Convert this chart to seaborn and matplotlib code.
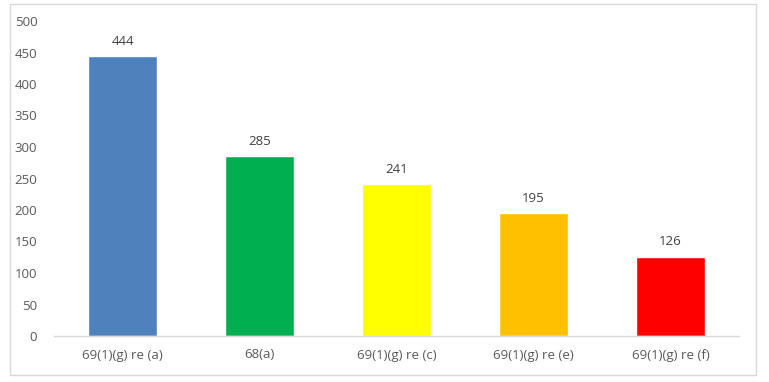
import matplotlib
matplotlib.use("Agg")
import matplotlib.pyplot as plt
import seaborn as sns
import pandas as pd
from matplotlib.patches import Rectangle

categories = ["69(1)(g) re (a)", "68(a)", "69(1)(g) re (c)", "69(1)(g) re (e)", "69(1)(g) re (f)"]
values = [444, 285, 241, 195, 126]
colors = ["#4F81BD", "#00B050", "#FFFF00", "#FFC000", "#FF0000"]
yticks = [0, 50, 100, 150, 200, 250, 300, 350, 400, 450, 500]

sns.set_style("white")
plt.rcParams["font.family"] = ["Open Sans", "DejaVu Sans"]

df = pd.DataFrame({"cat": categories, "val": values})

fig = plt.figure(figsize=(7.69, 3.82), dpi=100)
ax = fig.add_axes([54/769, 1-336/382, (739-54)/769, (336-21)/382])
sns.barplot(data=df, x="cat", y="val", hue="cat", palette=colors, legend=False,
            width=0.5, ax=ax, saturation=1)
ax.set_ylim(0, 500)
ax.set_yticks(yticks)
ax.set_xlim(-0.5, len(categories) - 0.5)
ax.set_xlabel("")
ax.set_ylabel("")
for s in ["top", "right", "left"]:
    ax.spines[s].set_visible(False)
ax.spines["bottom"].set_color("#D9D9D9")
ax.spines["bottom"].set_linewidth(1)
ax.tick_params(axis="both", length=0, labelsize=9.5, colors="#595959", pad=9)
ax.tick_params(axis="y", pad=12)
for c in ax.containers:
    ax.bar_label(c, fmt="%d", padding=6, fontsize=9.5, color="#404040")

fig.patches.append(Rectangle((9.5/769, 1-375/382), (756-9.5)/769, (375-4)/382,
                             transform=fig.transFigure, fill=False,
                             edgecolor="#D9D9D9", linewidth=1))
fig.savefig("out.png", dpi=100)
